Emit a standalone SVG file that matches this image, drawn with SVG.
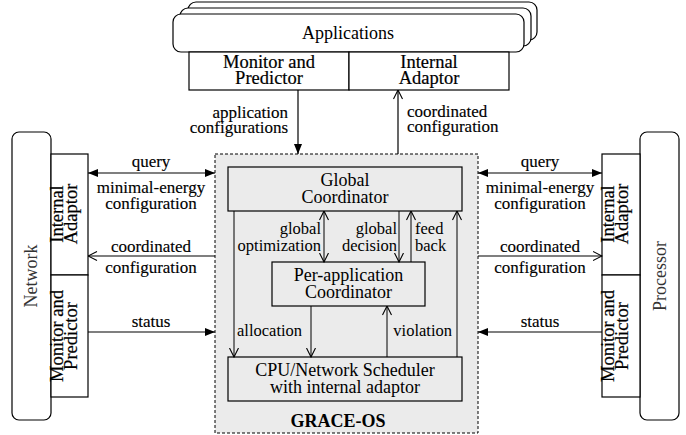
<svg xmlns="http://www.w3.org/2000/svg" width="686" height="435" viewBox="0 0 686 435">
  <style>
    text { font-family: "Liberation Serif", "Times New Roman", serif; fill: #000; }
    .box { fill: #fff; stroke: #000; stroke-width: 1.2; }
    .ibox { fill: #ebebeb; stroke: #000; stroke-width: 1.2; }
    .rnd { fill: #fff; stroke: #000; stroke-width: 1.2; }
    .big { font-size: 18px; }
    .mod { font-size: 18.5px; stroke: #000; stroke-width: 0.2; }
    .lbl { font-size: 17px; stroke: #000; stroke-width: 0.15; }
    .ilbl { font-size: 16.5px; }
    .side { font-size: 18px; fill: #333; }
    .c { text-anchor: middle; }
    .r { text-anchor: end; }
    .ln { fill: none; stroke: #000; stroke-width: 1.2; }
    .lni { fill: none; stroke: #000; stroke-width: 1; }
  </style>
  <defs>
    <marker id="solid" viewBox="0 0 10 8" refX="10" refY="4" markerWidth="10" markerHeight="8" markerUnits="userSpaceOnUse" orient="auto-start-reverse">
      <path d="M0,0 L10,4 L0,8 z" fill="#000"/>
    </marker>
    <marker id="open" viewBox="0 0 10 10" refX="9.5" refY="5" markerWidth="10" markerHeight="10" markerUnits="userSpaceOnUse" orient="auto-start-reverse">
      <path d="M0.5,0.5 L9.5,5 L0.5,9.5" fill="none" stroke="#000" stroke-width="1.1"/>
    </marker>
  </defs>

  <!-- Applications stack -->
  <g id="applications">
    <rect class="rnd" x="188" y="2" width="349" height="38" rx="8"/>
    <rect class="rnd" x="180" y="8" width="351" height="38" rx="8"/>
    <rect class="rnd" x="173" y="14" width="351" height="38" rx="8"/>
    <text class="big c" x="348" y="39">Applications</text>
  </g>
  <g id="app-monitor">
    <rect class="box" x="189" y="52" width="160" height="38"/>
    <text class="mod c" x="269" y="68">Monitor and</text>
    <text class="mod c" x="269" y="84">Predictor</text>
  </g>
  <g id="app-adaptor">
    <rect class="box" x="349" y="52" width="160" height="38"/>
    <text class="mod c" x="429" y="68">Internal</text>
    <text class="mod c" x="429" y="84">Adaptor</text>
  </g>

  <!-- Network side -->
  <g id="network">
    <rect class="rnd" x="12" y="132" width="39" height="288" rx="7"/>
    <text class="side c" transform="translate(37,276) rotate(-90)">Network</text>
  </g>
  <g id="net-adaptor">
    <rect class="box" x="51" y="154" width="37" height="121"/>
    <text class="mod c" transform="translate(63,214) rotate(-90)">Internal</text>
    <text class="mod c" transform="translate(77,214) rotate(-90)">Adaptor</text>
  </g>
  <g id="net-monitor">
    <rect class="box" x="51" y="275" width="37" height="122"/>
    <text class="mod c" transform="translate(63,336) rotate(-90)">Monitor and</text>
    <text class="mod c" transform="translate(77,336) rotate(-90)">Predictor</text>
  </g>

  <!-- Processor side -->
  <g id="processor">
    <rect class="rnd" x="640" y="132" width="39" height="288" rx="7"/>
    <text class="side c" transform="translate(666,276) rotate(-90)">Processor</text>
  </g>
  <g id="cpu-adaptor">
    <rect class="box" x="602" y="154" width="38" height="121"/>
    <text class="mod c" transform="translate(614,214) rotate(-90)">Internal</text>
    <text class="mod c" transform="translate(628,214) rotate(-90)">Adaptor</text>
  </g>
  <g id="cpu-monitor">
    <rect class="box" x="602" y="275" width="38" height="122"/>
    <text class="mod c" transform="translate(614,336) rotate(-90)">Monitor and</text>
    <text class="mod c" transform="translate(628,336) rotate(-90)">Predictor</text>
  </g>

  <!-- GRACE-OS container -->
  <g id="grace-os">
    <rect x="215" y="154" width="263" height="279" fill="#ebebeb" stroke="#000" stroke-width="1" stroke-dasharray="3,2"/>
    <text class="c" x="338" y="427" font-size="18" font-weight="bold">GRACE-OS</text>
  </g>
  <g id="global-coordinator">
    <rect class="ibox" x="228" y="167" width="234" height="44"/>
    <text class="big c" x="345" y="186">Global</text>
    <text class="big c" x="345" y="203">Coordinator</text>
  </g>
  <g id="per-app-coordinator">
    <rect class="ibox" x="272" y="262" width="153" height="44"/>
    <text class="big c" x="348.5" y="281">Per-application</text>
    <text class="big c" x="348.5" y="298">Coordinator</text>
  </g>
  <g id="scheduler">
    <rect class="ibox" x="228" y="357" width="234" height="44"/>
    <text class="big c" x="345" y="376">CPU/Network Scheduler</text>
    <text class="big c" x="345" y="393">with internal adaptor</text>
  </g>

  <!-- Connectors -->
  <g id="connectors">
    <!-- applications <-> GRACE-OS -->
    <line class="ln" x1="298" y1="90" x2="298" y2="154" marker-end="url(#solid)"/>
    <line class="ln" x1="398" y1="154" x2="398" y2="90" marker-end="url(#open)"/>
    <!-- network side -->
    <line class="ln" x1="88" y1="173" x2="215" y2="173" marker-start="url(#solid)" marker-end="url(#solid)"/>
    <line class="ln" x1="215" y1="256" x2="88" y2="256" marker-end="url(#open)"/>
    <line class="ln" x1="88" y1="332" x2="215" y2="332" marker-end="url(#solid)"/>
    <!-- processor side -->
    <line class="ln" x1="478" y1="173" x2="602" y2="173" marker-start="url(#solid)" marker-end="url(#solid)"/>
    <line class="ln" x1="478" y1="256" x2="602" y2="256" marker-end="url(#open)"/>
    <line class="ln" x1="602" y1="332" x2="478" y2="332" marker-end="url(#solid)"/>
    <!-- inside GRACE-OS -->
    <line class="lni" x1="234" y1="211" x2="234" y2="357" marker-end="url(#open)"/>
    <line class="lni" x1="324" y1="211" x2="324" y2="262" marker-start="url(#open)" marker-end="url(#open)"/>
    <line class="lni" x1="399" y1="211" x2="399" y2="262" marker-end="url(#open)"/>
    <line class="lni" x1="411" y1="262" x2="411" y2="211" marker-end="url(#open)"/>
    <line class="lni" x1="457" y1="357" x2="457" y2="211" marker-end="url(#open)"/>
    <line class="lni" x1="311" y1="306" x2="311" y2="357" marker-end="url(#open)"/>
    <line class="lni" x1="387" y1="357" x2="387" y2="306" marker-end="url(#open)"/>

    <!-- connector labels -->
    <text class="lbl r" x="288" y="118">application</text>
    <text class="lbl r" x="288" y="133">configurations</text>
    <text class="lbl" x="407" y="117">coordinated</text>
    <text class="lbl" x="407" y="132">configuration</text>

    <text class="lbl c" x="151" y="167">query</text>
    <text class="lbl c" x="151" y="193">minimal-energy</text>
    <text class="lbl c" x="151" y="209">configuration</text>
    <text class="lbl c" x="151" y="252">coordinated</text>
    <text class="lbl c" x="151" y="273">configuration</text>
    <text class="lbl c" x="151" y="327">status</text>

    <text class="lbl c" x="540" y="167">query</text>
    <text class="lbl c" x="540" y="193">minimal-energy</text>
    <text class="lbl c" x="540" y="209">configuration</text>
    <text class="lbl c" x="540" y="252">coordinated</text>
    <text class="lbl c" x="540" y="273">configuration</text>
    <text class="lbl c" x="540" y="327">status</text>

    <text class="ilbl r" x="321" y="234">global</text>
    <text class="ilbl r" x="321" y="251">optimization</text>
    <text class="ilbl r" x="397" y="234">global</text>
    <text class="ilbl r" x="397" y="251">decision</text>
    <text class="ilbl" x="415" y="234">feed</text>
    <text class="ilbl" x="415" y="251">back</text>
    <text class="ilbl" x="237" y="336">allocation</text>
    <text class="ilbl r" x="452" y="336">violation</text>
  </g>
</svg>
